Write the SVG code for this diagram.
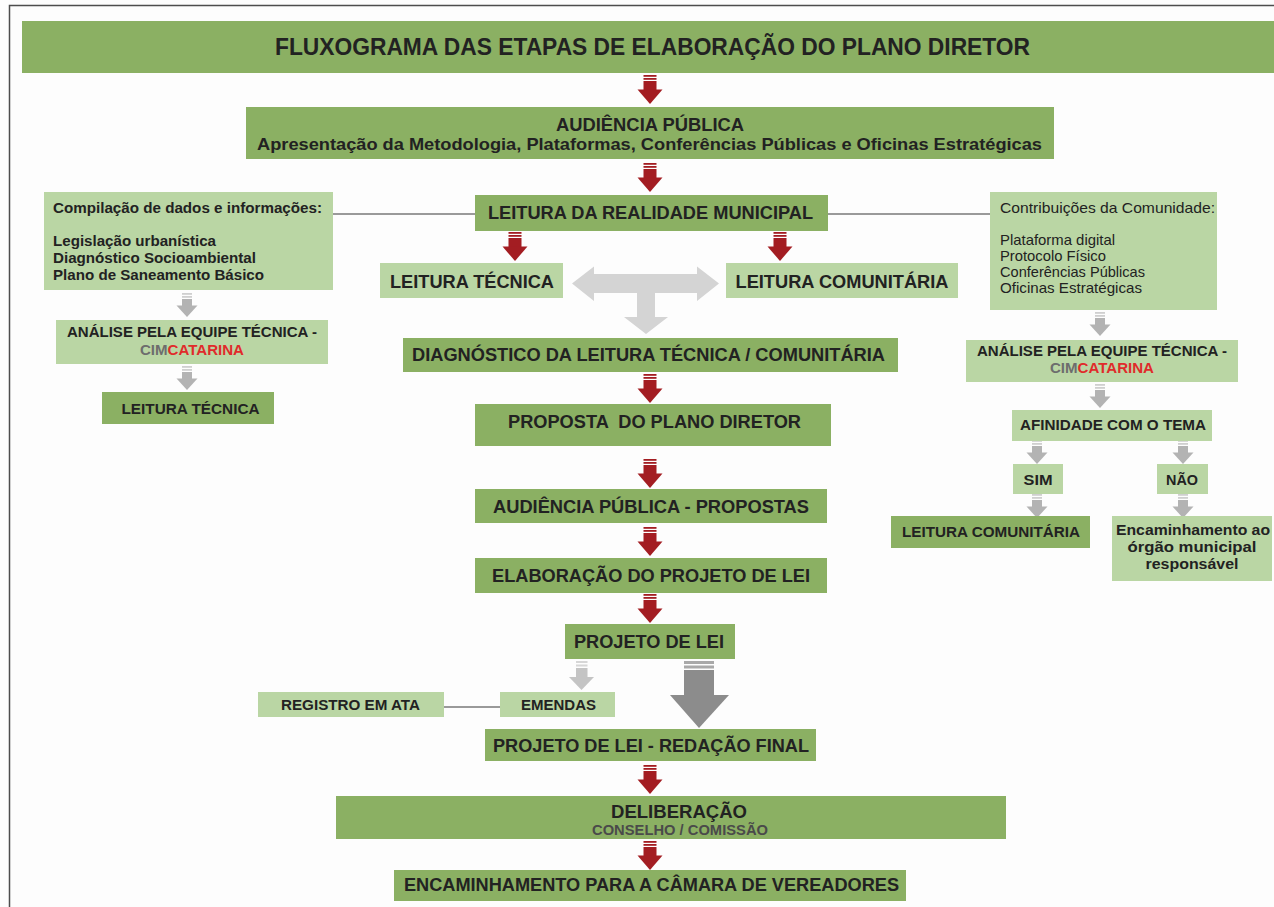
<svg xmlns="http://www.w3.org/2000/svg" xmlns:xlink="http://www.w3.org/1999/xlink" width="1274" height="907" viewBox="0 0 1274 907">
<style>
.dk{fill:#8bb063}
.lt{fill:#bad6a4}
.t{font-family:"Liberation Sans",Arial,sans-serif;font-weight:bold;fill:#222;text-anchor:middle}
.s{font-family:"Liberation Sans",Arial,sans-serif;font-weight:bold;fill:#222;font-size:14.5px}
.r{font-family:"Liberation Sans",Arial,sans-serif;font-weight:normal;fill:#222;font-size:14.5px}
.f18{font-size:19px}
.f14{font-size:14.5px}
.cim{fill:#6d6d6d}
.cat{fill:#e02b2b}
.ln{stroke:#9a9a9a;stroke-width:2;fill:none}
</style>
<defs>
<g id="ra" fill="#a31d22">
<rect x="-6.5" y="0" width="13" height="1.8"/>
<rect x="-6.5" y="3" width="13" height="1.8"/>
<rect x="-6.5" y="6" width="13" height="9"/>
<polygon points="-12.5,14.5 12.5,14.5 0,29"/>
</g>
<g id="ga">
<rect x="-5" y="0" width="10" height="1.8" fill="#cfcfcf"/>
<rect x="-5" y="3" width="10" height="1.8" fill="#cfcfcf"/>
<rect x="-5" y="6" width="10" height="7" fill="#b3b3b3"/>
<polygon points="-10.5,12.5 10.5,12.5 0,24" fill="#b3b3b3"/>
</g>
</defs>
<rect x="0" y="0" width="1274" height="907" fill="#fdfdfd"/>
<rect x="9.5" y="5.5" width="1290" height="920" fill="none" stroke="#4d4d4d" stroke-width="1.5"/>

<g id="title"><rect class="dk" x="22" y="21" width="1260" height="52"/><text class="t" x="652.5" y="55" font-size="23" textLength="755" lengthAdjust="spacingAndGlyphs">FLUXOGRAMA DAS ETAPAS DE ELABORAÇÃO DO PLANO DIRETOR</text></g>

<g id="connectors">
<line class="ln" x1="333" y1="214" x2="475" y2="214"/>
<line class="ln" x1="828" y1="214" x2="990" y2="214"/>
<line class="ln" x1="444" y1="707" x2="500" y2="707"/>
<use xlink:href="#ra" x="650" y="75"/>
<use xlink:href="#ra" x="650" y="163"/>
<use xlink:href="#ra" x="515" y="232"/>
<use xlink:href="#ra" x="780" y="232"/>
<use xlink:href="#ra" x="650" y="374"/>
<use xlink:href="#ra" x="650" y="459"/>
<use xlink:href="#ra" x="650" y="527"/>
<use xlink:href="#ra" x="650" y="594"/>
<use xlink:href="#ra" x="650" y="765"/>
<use xlink:href="#ra" x="650" y="841"/>
<polygon fill="#d4d4d4" points="572,283.5 594,266.5 594,274 697,274 697,266.5 719,283.5 697,301 697,293 655,293 655,317 668,317 646,334 624,317 637,317 637,293 594,293 594,301"/>
<use xlink:href="#ga" x="187" y="293"/>
<use xlink:href="#ga" x="187" y="366"/>
<use xlink:href="#ga" x="1100" y="312"/>
<use xlink:href="#ga" x="1100" y="384"/>
<use xlink:href="#ga" x="1037" y="440"/>
<use xlink:href="#ga" x="1183" y="440"/>
<use xlink:href="#ga" x="1037" y="494"/>
<use xlink:href="#ga" x="1183" y="494"/>
<g id="arrow-emendas">
<rect x="576" y="661" width="11.5" height="2" fill="#d6d6d6"/>
<rect x="576" y="664.5" width="11.5" height="2" fill="#d6d6d6"/>
<rect x="576" y="668" width="11.5" height="9.5" fill="#c4c4c4"/>
<polygon points="569,677 594,677 581.5,690" fill="#c4c4c4"/>
</g>
<g id="arrow-big">
<rect x="684" y="661" width="30" height="3" fill="#a9a9a9"/>
<rect x="684" y="665.5" width="30" height="3" fill="#a9a9a9"/>
<rect x="684" y="670" width="30" height="25.5" fill="#8c8c8c"/>
<polygon points="670,695 729,695 699,728" fill="#8c8c8c"/>
</g>
</g>

<g id="audiencia"><rect class="dk" x="246" y="107" width="808" height="52"/><text class="t" x="650" y="131" font-size="18" textLength="188" lengthAdjust="spacingAndGlyphs">AUDIÊNCIA PÚBLICA</text><text class="t" x="649.5" y="150" font-size="17" textLength="785" lengthAdjust="spacingAndGlyphs">Apresentação da Metodologia, Plataformas, Conferências Públicas e Oficinas Estratégicas</text></g>

<g id="realidade"><rect class="dk" x="475" y="195" width="353" height="36"/><text class="t f18" x="650.5" y="219" textLength="325" lengthAdjust="spacingAndGlyphs">LEITURA DA REALIDADE MUNICIPAL</text></g>

<g id="compilacao"><rect class="lt" x="44" y="192" width="289" height="98"/>
<text class="s" x="53" y="213" textLength="269" lengthAdjust="spacingAndGlyphs">Compilação de dados e informações:</text>
<text class="s" x="53" y="246" textLength="163" lengthAdjust="spacingAndGlyphs">Legislação urbanística</text>
<text class="s" x="53" y="263" textLength="203" lengthAdjust="spacingAndGlyphs">Diagnóstico Socioambiental</text>
<text class="s" x="53" y="280" textLength="211" lengthAdjust="spacingAndGlyphs">Plano de Saneamento Básico</text></g>

<g id="contribuicoes"><rect class="lt" x="990" y="192" width="227" height="118"/>
<text class="r" x="1000" y="213" textLength="215" lengthAdjust="spacingAndGlyphs">Contribuições da Comunidade:</text>
<text class="r" x="1000" y="245" textLength="115" lengthAdjust="spacingAndGlyphs">Plataforma digital</text>
<text class="r" x="1000" y="261" textLength="106" lengthAdjust="spacingAndGlyphs">Protocolo Físico</text>
<text class="r" x="1000" y="277" textLength="145" lengthAdjust="spacingAndGlyphs">Conferências Públicas</text>
<text class="r" x="1000" y="293" textLength="142" lengthAdjust="spacingAndGlyphs">Oficinas Estratégicas</text></g>

<g id="leitura-tecnica-mid"><rect class="lt" x="380" y="263" width="183" height="35"/><text class="t f18" x="472" y="288" textLength="164" lengthAdjust="spacingAndGlyphs">LEITURA TÉCNICA</text></g>
<g id="leitura-comunitaria-mid"><rect class="lt" x="726" y="263" width="232" height="35"/><text class="t f18" x="842" y="288" textLength="213" lengthAdjust="spacingAndGlyphs">LEITURA COMUNITÁRIA</text></g>

<g id="diagnostico"><rect class="dk" x="403" y="338" width="495" height="34"/><text class="t f18" x="648.5" y="361" textLength="473" lengthAdjust="spacingAndGlyphs">DIAGNÓSTICO DA LEITURA TÉCNICA / COMUNITÁRIA</text></g>
<g id="proposta"><rect class="dk" x="475" y="404" width="356" height="42"/><text class="t f18" x="654.5" y="428" textLength="293" lengthAdjust="spacingAndGlyphs" xml:space="preserve">PROPOSTA  DO PLANO DIRETOR</text></g>
<g id="audiencia-propostas"><rect class="dk" x="475" y="489" width="352" height="34"/><text class="t f18" x="651" y="513" textLength="316" lengthAdjust="spacingAndGlyphs">AUDIÊNCIA PÚBLICA - PROPOSTAS</text></g>
<g id="elaboracao"><rect class="dk" x="475" y="558" width="352" height="35"/><text class="t f18" x="651" y="582" textLength="318" lengthAdjust="spacingAndGlyphs">ELABORAÇÃO DO PROJETO DE LEI</text></g>
<g id="projeto-lei"><rect class="dk" x="565" y="624" width="170" height="35"/><text class="t f18" x="649" y="648" textLength="150" lengthAdjust="spacingAndGlyphs">PROJETO DE LEI</text></g>
<g id="registro"><rect class="lt" x="258" y="692" width="186" height="25"/><text class="t f14" x="350.5" y="710" textLength="139" lengthAdjust="spacingAndGlyphs">REGISTRO EM ATA</text></g>
<g id="emendas"><rect class="lt" x="500" y="692" width="115" height="25"/><text class="t f14" x="558.5" y="710" textLength="75" lengthAdjust="spacingAndGlyphs">EMENDAS</text></g>
<g id="redacao-final"><rect class="dk" x="485" y="729" width="331" height="32"/><text class="t f18" x="651" y="752" textLength="316" lengthAdjust="spacingAndGlyphs">PROJETO DE LEI - REDAÇÃO FINAL</text></g>
<g id="deliberacao"><rect class="dk" x="336" y="796" width="670" height="43"/><text class="t f18" x="679" y="818" textLength="136" lengthAdjust="spacingAndGlyphs">DELIBERAÇÃO</text><text class="t f14" x="680" y="835" style="fill:#4a4a4a" textLength="176" lengthAdjust="spacingAndGlyphs">CONSELHO / COMISSÃO</text></g>
<g id="camara"><rect class="dk" x="394" y="870" width="512" height="31"/><text class="t f18" x="651.5" y="891" textLength="495" lengthAdjust="spacingAndGlyphs">ENCAMINHAMENTO PARA A CÂMARA DE VEREADORES</text></g>

<g id="analise-esq"><rect class="lt" x="56" y="320" width="272" height="44"/><text class="t f14" x="192" y="337" textLength="250" lengthAdjust="spacingAndGlyphs">ANÁLISE PELA EQUIPE TÉCNICA -</text><text class="t f14" x="192" y="355" textLength="104" lengthAdjust="spacingAndGlyphs"><tspan class="cim">CIM</tspan><tspan class="cat">CATARINA</tspan></text></g>
<g id="leitura-tecnica-esq"><rect class="dk" x="102" y="392" width="172" height="32"/><text class="t f14" x="190.5" y="414" textLength="138" lengthAdjust="spacingAndGlyphs">LEITURA TÉCNICA</text></g>

<g id="analise-dir"><rect class="lt" x="966" y="340" width="272" height="42"/><text class="t f14" x="1102" y="356" textLength="250" lengthAdjust="spacingAndGlyphs">ANÁLISE PELA EQUIPE TÉCNICA -</text><text class="t f14" x="1102" y="373" textLength="104" lengthAdjust="spacingAndGlyphs"><tspan class="cim">CIM</tspan><tspan class="cat">CATARINA</tspan></text></g>
<g id="afinidade"><rect class="lt" x="1012" y="410" width="200" height="31"/><text class="t f14" x="1113" y="430" textLength="186" lengthAdjust="spacingAndGlyphs">AFINIDADE COM O TEMA</text></g>
<g id="sim"><rect class="lt" x="1013" y="464" width="50" height="30"/><text class="t f14" x="1038" y="485" textLength="29" lengthAdjust="spacingAndGlyphs">SIM</text></g>
<g id="nao"><rect class="lt" x="1157" y="464" width="51" height="30"/><text class="t f14" x="1182" y="485" textLength="32" lengthAdjust="spacingAndGlyphs">NÃO</text></g>
<g id="leitura-comunitaria-dir"><rect class="dk" x="891" y="516" width="199" height="32"/><text class="t f14" x="991" y="537" textLength="178" lengthAdjust="spacingAndGlyphs">LEITURA COMUNITÁRIA</text></g>
<g id="encaminhamento-orgao"><rect class="lt" x="1112" y="516" width="160" height="65"/><text class="t f14" x="1193" y="535" textLength="154" lengthAdjust="spacingAndGlyphs">Encaminhamento ao</text><text class="t f14" x="1192" y="552" textLength="129" lengthAdjust="spacingAndGlyphs">órgão municipal</text><text class="t f14" x="1192" y="569" textLength="93" lengthAdjust="spacingAndGlyphs">responsável</text></g>
</svg>
